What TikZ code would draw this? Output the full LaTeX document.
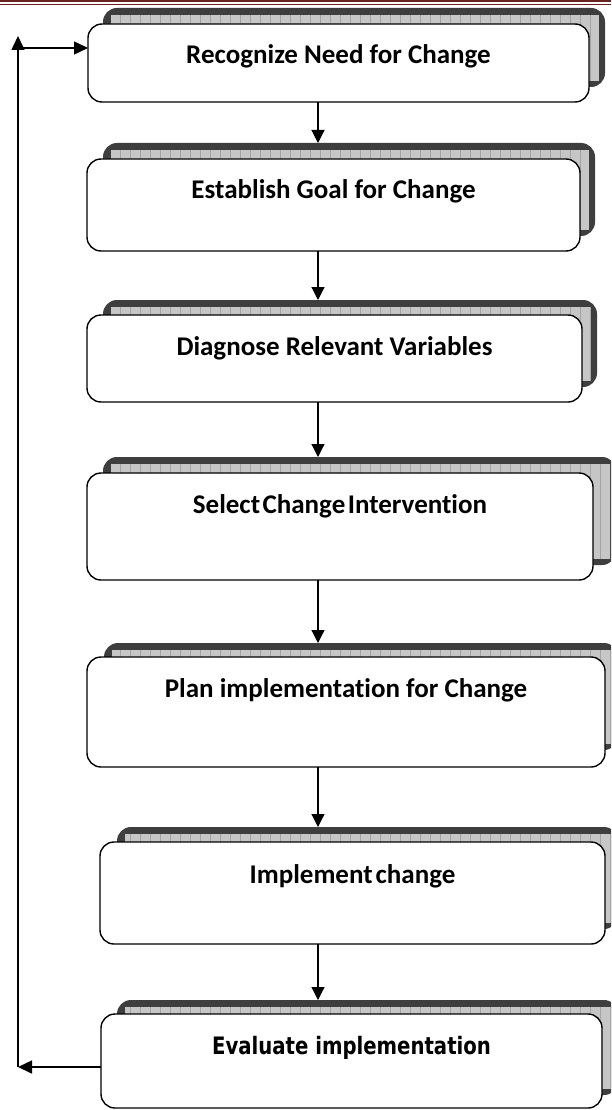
\documentclass[tikz,border=0pt]{standalone}
\usepackage{fontspec}
\setmainfont{Carlito}[Ligatures=NoCommon]
\newfontfamily\evalfont{DejaVu Sans}
\usetikzlibrary{arrows.meta}
\definecolor{hdr}{HTML}{6B2222}
\definecolor{shd}{HTML}{3E3E3E}
\definecolor{shl}{HTML}{C6C6C6}
\definecolor{shg}{HTML}{A4A4A4}
\newcommand\shadowpart[5]{%
  \node[shdark, minimum width={#4-#2}, minimum height={#5-#3}] (#1) at ({(#2+#4)/2},{(#3+#5)/2}) {};
  \begin{scope}
    \clip ({#2+8},{#3+7}) rectangle ({#4-6},{#5-6});
    \fill[shl] ({#2+8},{#3+7}) rectangle ({#4-6},{#5-6});
    \draw[shg, line width=0.5pt, step=10] ({#2+8},{#3+7}) grid ({#4-6},{#5-6});
  \end{scope}}
\newcommand\frontpart[5]{%
  \node[front, minimum width={#4-#2}, minimum height={#5-#3}] (#1) at ({(#2+#4)/2},{(#3+#5)/2}) {};}
\begin{document}
\begin{tikzpicture}[x=1pt,y=-1pt,
  front/.style={draw=black, line width=1.4pt, fill=white, rounded corners=14pt, inner sep=0pt, outer sep=0pt},
  shdark/.style={fill=shd, rounded corners=14pt, inner sep=0pt, outer sep=0pt},
  boxtext/.style={font=\bfseries\fontsize{27}{30}\selectfont, inner sep=0pt},
  evaltext/.style={font=\evalfont\bfseries\fontsize{24}{28}\selectfont, inner sep=0pt},
  arr/.style={line width=1.2pt, -{Triangle[length=13pt,width=13pt]}},
  fb/.style={line width=1.5pt, -{Triangle[length=14pt,width=13pt]}}]
\useasboundingbox (0,0) rectangle (611,1110);
\clip (0,0) rectangle (611,1110);
\fill[white] (0,0) rectangle (611,1110);
% header
\fill[hdr] (0,0) rectangle (611,2.5);
\draw[hdr, line width=1.2pt] (0,4.6) -- (611,4.6);
% boxes
\shadowpart{s1}{103}{8}{605}{87}
\frontpart{b1}{88}{24}{589}{102}
\shadowpart{s2}{103}{143}{595}{236}
\frontpart{b2}{87}{159}{580}{251}
\shadowpart{s3}{103}{300}{597}{387}
\frontpart{b3}{87}{315}{582}{402}
\shadowpart{s4}{103}{457}{616}{565}
\frontpart{b4}{87}{473}{593}{580}
\shadowpart{s5}{104}{643}{618}{750}
\frontpart{b5}{87}{657}{605}{767}
\shadowpart{s6}{117}{827}{618}{929}
\frontpart{b6}{100}{842}{605}{944}
\shadowpart{s7}{117}{1000}{618}{1095}
\frontpart{b7}{101}{1014}{602}{1108}
% texts
\node[boxtext] (t1) at ([yshift=-32pt]b1.north) {Recognize Need for Change};
\node[boxtext] (t2) at ([yshift=-32pt]b2.north) {Establish Goal for Change};
\node[boxtext] (t3) at ([yshift=-33pt]b3.north) {Diagnose Relevant Variables};
\node[boxtext] (t4) at ([yshift=-33pt]b4.north) {Select\hspace{2.5pt}Change\hspace{2.5pt}Intervention};
\node[boxtext] (t5) at ([yshift=-33pt]b5.north) {Plan implementation for Change};
\node[boxtext] (t6) at ([yshift=-34pt]b6.north) {Implement\hspace{3pt}change};
\node[evaltext] (t7) at ([yshift=-34pt]b7.north) {\scalebox{0.82}[1]{Evaluate implementation}};
% connectors
\coordinate (ax) at (318,0);
\draw[arr] (b1.south -| ax) -- (s2.north -| ax);
\draw[arr] (b2.south -| ax) -- (s3.north -| ax);
\draw[arr] (b3.south -| ax) -- (s4.north -| ax);
\draw[arr] (b4.south -| ax) -- (s5.north -| ax);
\draw[arr] (b5.south -| ax) -- (s6.north -| ax);
\draw[arr] (b6.south -| ax) -- (s7.north -| ax);
% feedback loop
\coordinate (fbA) at (18,1067);
\coordinate (fbTop) at (18,36);
\coordinate (fbMid) at (18,48);
\draw[fb] (fbA -| b7.west) -- (fbA);
\draw[fb] (fbA) -- (fbTop);
\draw[fb] (fbMid) -- (fbMid -| b1.west);
\end{tikzpicture}
\end{document}
